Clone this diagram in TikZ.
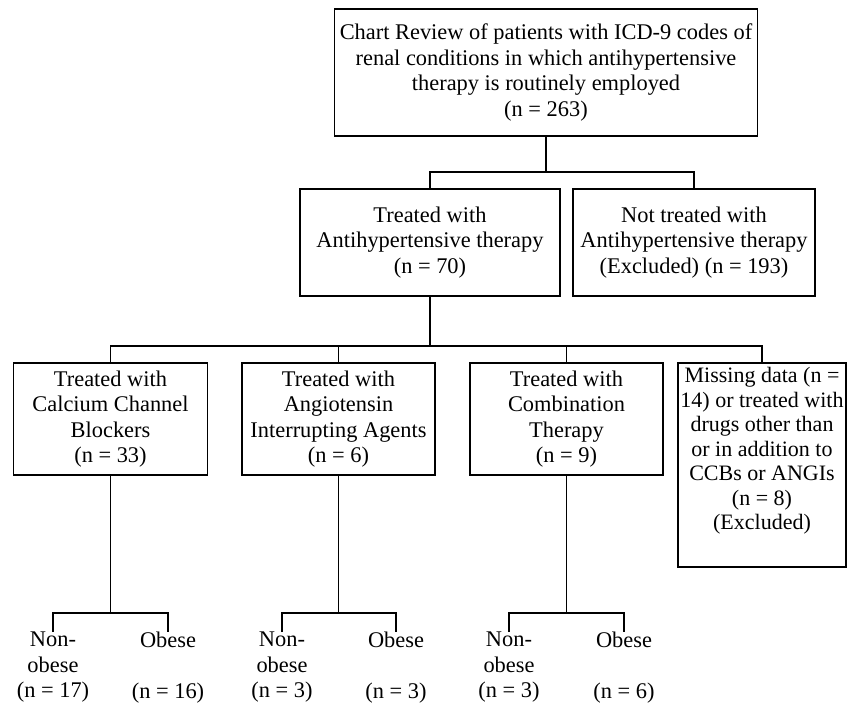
\documentclass[tikz,border=0pt]{standalone}
\usepackage{fontspec}
\setmainfont{Liberation Serif}
\begin{document}
\begin{tikzpicture}[x=1pt,y=-1pt,
  txt/.style={font=\fontsize{22.4}{25.5}\selectfont, align=center, inner sep=0pt},
  box/.style={txt, draw, line width=1.2pt},
  leaf/.style={txt, anchor=north},
  conn/.style={line width=1.2pt}]
\useasboundingbox (0,0) rectangle (856,707);
\node[box, minimum width=423pt, minimum height=127pt] (top) at (546,72.5)
  {Chart Review of patients with ICD-9 codes of\\renal conditions in which antihypertensive\\therapy is routinely employed\\(n = 263)};
\node[box, minimum width=260pt, minimum height=107pt] (treated) at (430,242.5)
  {Treated with\\Antihypertensive therapy\\(n = 70)};
\node[box, minimum width=242pt, minimum height=107pt] (nottr) at (694,242.5)
  {Not treated with\\Antihypertensive therapy\\(Excluded) (n = 193)};
\node[box, minimum width=194pt, minimum height=112pt] (ccb) at (110.5,419)
  {Treated with\\Calcium Channel\\Blockers\\(n = 33)};
\node[box, minimum width=193pt, minimum height=112pt] (angio) at (338.5,419)
  {Treated with\\Angiotensin\\Interrupting Agents\\(n = 6)};
\node[box, minimum width=193pt, minimum height=112pt] (combo) at (566.5,419)
  {Treated with\\Combination\\Therapy\\(n = 9)};
\node[box, font=\fontsize{22}{24.5}\selectfont, minimum width=168pt, minimum height=204pt] (miss) at (762,465)
  {Missing data (n =\\14) or treated with\\drugs other than\\or in addition to\\CCBs or ANGIs\\(n = 8)\\(Excluded)\\\rule[-8pt]{0pt}{8pt}};
\node[leaf] (nonA) at (53,632) {Non-\\obese\\(n = 17)};
\node[leaf] (obA) at (168,632) {Obese\\~\\(n = 16)};
\node[leaf] (nonB) at (282,632) {Non-\\obese\\(n = 3)};
\node[leaf] (obB) at (396,632) {Obese\\~\\(n = 3)};
\node[leaf] (nonC) at (509,632) {Non-\\obese\\(n = 3)};
\node[leaf] (obC) at (624,632) {Obese\\~\\(n = 6)};
% connectors
\coordinate (b1) at (546,172);
\draw[conn] (top.south) -- (b1);
\draw[conn] (treated.north) |- (b1) -| (nottr.north);
\coordinate (b2) at (430,346);
\draw[conn] (treated.south) -- (b2);
\draw[conn] (ccb.north) |- (b2) -| (miss.north);
\draw[conn] (angio.north) -- (angio.north |- b2);
\draw[conn] (combo.north) -- (combo.north |- b2);
\coordinate (c1) at (110.5,613);
\coordinate (c2) at (338.5,613);
\coordinate (c3) at (566.5,613);
\draw[conn] (ccb.south) -- (c1);
\draw[conn] (angio.south) -- (c2);
\draw[conn] (combo.south) -- (c3);
\draw[conn] (nonA.north) |- (c1) -| (obA.north);
\draw[conn] (nonB.north) |- (c2) -| (obB.north);
\draw[conn] (nonC.north) |- (c3) -| (obC.north);
\end{tikzpicture}
\end{document}
